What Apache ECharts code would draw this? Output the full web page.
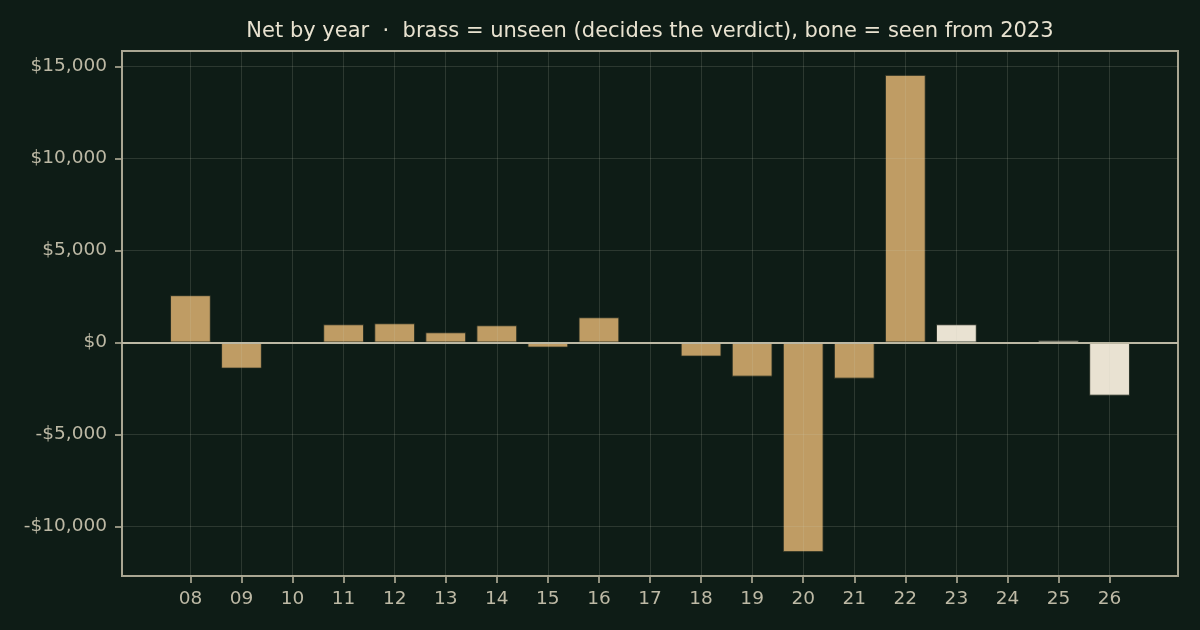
<!DOCTYPE html>
<html>
<head>
<meta charset="utf-8">
<title>Net by year</title>
<script src="https://cdn.jsdelivr.net/npm/echarts@6/dist/echarts.min.js"></script>
<style>
  html, body { margin: 0; padding: 0; background: #0e1c16; }
  #main { width: 1200px; height: 630px; }
</style>
</head>
<body>
<div id="main"></div>
<script>
// data
var years = ['08', '09', '10', '11', '12', '13', '14', '15', '16', '17',
             '18', '19', '20', '21', '22', '23', '24', '25', '26'];
var net = [2570, -1420, 0, 990, 1045, 555, 936, -278, 1371, -90,
           -767, -1856, -11390, -1965, 14541, 990, -90, 120, -2890];
var seenFrom = '23';          // first year that is "seen"
var yTicks = [-10000, -5000, 0, 5000, 10000, 15000];

var brass = '#bf9c64';
var bone = '#e9e2d2';
var ink = '#bdb9a5';
var frame = '#a9a692';
var gridCol = 'rgba(205,205,185,0.16)';
var font = 'DejaVu Sans';

var xIdx = years.map(function (y, i) { return i; });

// gridlines sit on top of the bars (like the original), so draw them as marklines
var lines = [];
xIdx.forEach(function (i) {
    lines.push({ xAxis: i, lineStyle: { color: gridCol, width: 1, type: 'solid' } });
});
yTicks.forEach(function (v) {
    if (v === 0) return;
    lines.push({ yAxis: v, lineStyle: { color: gridCol, width: 1, type: 'solid' } });
});
lines.push({ yAxis: 0, lineStyle: { color: '#bcb8a4', width: 2, type: 'solid' } });

function money(v) {
    var s = Math.abs(v).toLocaleString('en-US');
    return (v < 0 ? '-$' : '$') + s;
}

var chart = echarts.init(document.getElementById('main'));

chart.setOption({
    backgroundColor: '#0e1c16',
    animation: false,
    title: {
        text: 'Net by year  \u00b7  brass = unseen (decides the verdict), bone = seen from 2023',
        left: 650,
        top: 21,
        textAlign: 'center',
        padding: 0,
        textStyle: { color: '#e8e2d0', fontFamily: font, fontSize: 21, fontWeight: 'normal' }
    },
    grid: {
        left: 122, right: 22, top: 51, bottom: 54,
        show: true,
        borderColor: frame,
        borderWidth: 2,
        backgroundColor: 'transparent'
    },
    xAxis: {
        type: 'value',
        min: -1.34,
        max: 19.34,
        axisLine: { show: false, onZero: false },
        splitLine: { show: false },
        axisTick: {
            show: true, length: 7, inside: false,
            customValues: xIdx,
            lineStyle: { color: frame, width: 1.7 }
        },
        axisLabel: {
            customValues: xIdx,
            margin: 14,
            color: ink,
            fontFamily: font,
            fontSize: 18.5,
            formatter: function (v) { return years[Math.round(v)]; }
        }
    },
    yAxis: {
        type: 'value',
        min: -12687,
        max: 15837,
        axisLine: { show: false, onZero: false },
        splitLine: { show: false },
        axisTick: {
            show: true, length: 7, inside: false,
            customValues: yTicks,
            lineStyle: { color: frame, width: 1.7 }
        },
        axisLabel: {
            customValues: yTicks,
            margin: 15,
            color: ink,
            fontFamily: font,
            fontSize: 18.5,
            formatter: money
        }
    },
    series: [{
        type: 'bar',
        name: 'net',
        barWidth: 40.8,
        clip: false,
        data: net.map(function (v, i) { return [i, v]; }),
        itemStyle: {
            color: function (p) {
                return years[p.dataIndex] >= seenFrom ? bone : brass;
            },
            borderColor: 'rgba(30,40,30,0.85)',
            borderWidth: 1
        },
        markLine: {
            silent: true,
            symbol: ['none', 'none'],
            label: { show: false },
            z: 5,
            data: lines
        }
    }]
});
</script>
</body>
</html>
